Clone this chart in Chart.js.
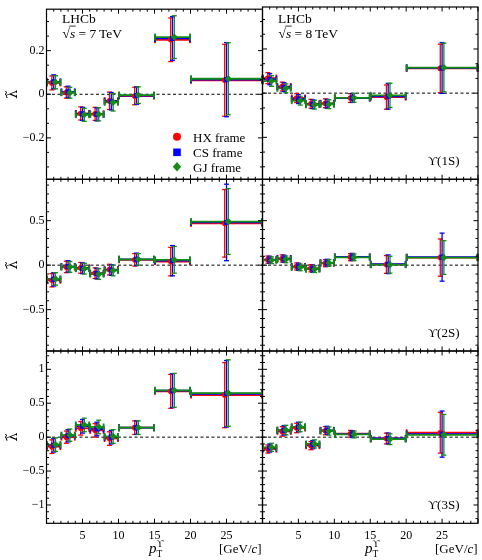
<!DOCTYPE html>
<html>
<head>
<meta charset="utf-8">
<title>LHCb Upsilon lambda-tilde vs pT</title>
<script src="https://cdn.jsdelivr.net/npm/chart.js@4.4.1/dist/chart.umd.min.js"></script>
<style>
  html, body { margin: 0; padding: 0; background: #fff; }
  #wrap { position: relative; width: 482px; height: 560px; }
  #wrap canvas { position: absolute; left: 0; top: 0; }
</style>
</head>
<body>
<div id="wrap">
  <canvas id="c0" width="482" height="560"></canvas>
  <canvas id="c1" width="482" height="560"></canvas>
  <canvas id="c2" width="482" height="560"></canvas>
  <canvas id="c3" width="482" height="560"></canvas>
  <canvas id="c4" width="482" height="560"></canvas>
  <canvas id="c5" width="482" height="560"></canvas>
</div>
<script>
// pT bins (GeV/c)
const binLow    = [0, 2, 4, 6, 8, 10, 15, 20];
const binHigh   = [2, 4, 6, 8, 10, 15, 20, 30];
const binCentre = [1, 3, 5, 7, 9, 12.5, 17.5, 25];
const frameNames = ['HX frame', 'CS frame', 'GJ frame'];

// Y(1S), 7 TeV
const lam1S7HX = [0.052, 0.008, -0.088, -0.090, -0.030, -0.008, 0.250, 0.064];
const lam1S7CS = [0.057, 0.011, -0.090, -0.092, -0.032, -0.006, 0.256, 0.067];
const lam1S7GJ = [0.055, 0.007, -0.094, -0.092, -0.037, -0.004, 0.262, 0.071];
const err1S7HX = [0.032, 0.026, 0.030, 0.030, 0.040, 0.040, 0.100, 0.165];
const err1S7CS = [0.032, 0.026, 0.030, 0.030, 0.040, 0.040, 0.100, 0.170];
const err1S7GJ = [0.030, 0.025, 0.030, 0.030, 0.040, 0.038, 0.098, 0.165];

// Y(1S), 8 TeV
const lam1S8HX = [0.068, 0.030, -0.022, -0.048, -0.046, -0.022, -0.018, 0.112];
const lam1S8CS = [0.063, 0.027, -0.027, -0.050, -0.048, -0.022, -0.014, 0.114];
const lam1S8GJ = [0.055, 0.022, -0.034, -0.052, -0.050, -0.021, -0.010, 0.116];
const err1S8HX = [0.025, 0.020, 0.020, 0.020, 0.020, 0.020, 0.055, 0.110];
const err1S8CS = [0.025, 0.020, 0.020, 0.020, 0.020, 0.020, 0.058, 0.115];
const err1S8GJ = [0.024, 0.020, 0.020, 0.020, 0.020, 0.020, 0.055, 0.110];

// Y(2S), 7 TeV
const lam2S7HX = [-0.170, -0.020, -0.030, -0.090, -0.050, 0.060, 0.040, 0.470];
const lam2S7CS = [-0.160, -0.015, -0.035, -0.095, -0.055, 0.065, 0.050, 0.480];
const lam2S7GJ = [-0.155, -0.020, -0.040, -0.100, -0.060, 0.065, 0.060, 0.490];
const err2S7HX = [0.075, 0.065, 0.060, 0.060, 0.060, 0.070, 0.160, 0.380];
const err2S7CS = [0.075, 0.065, 0.060, 0.060, 0.060, 0.070, 0.170, 0.430];
const err2S7GJ = [0.070, 0.060, 0.060, 0.060, 0.060, 0.065, 0.150, 0.370];

// Y(2S), 8 TeV
const lam2S8HX = [0.062, 0.075, -0.015, -0.035, 0.022, 0.090, 0.008, 0.085];
const lam2S8CS = [0.060, 0.072, -0.018, -0.040, 0.026, 0.092, 0.010, 0.090];
const lam2S8GJ = [0.055, 0.065, -0.025, -0.045, 0.025, 0.088, 0.005, 0.085];
const err2S8HX = [0.040, 0.040, 0.040, 0.040, 0.040, 0.040, 0.100, 0.210];
const err2S8CS = [0.040, 0.040, 0.040, 0.040, 0.040, 0.040, 0.105, 0.270];
const err2S8GJ = [0.038, 0.038, 0.038, 0.038, 0.038, 0.038, 0.095, 0.190];

// Y(3S), 7 TeV
const lam3S7HX = [-0.140, 0.000, 0.130, 0.100, -0.020, 0.140, 0.675, 0.620];
const lam3S7CS = [-0.120, 0.020, 0.160, 0.120, 0.000, 0.140, 0.685, 0.640];
const lam3S7GJ = [-0.110, 0.030, 0.180, 0.150, 0.010, 0.140, 0.690, 0.650];
const err3S7HX = [0.100, 0.090, 0.100, 0.100, 0.100, 0.100, 0.250, 0.480];
const err3S7CS = [0.100, 0.090, 0.100, 0.100, 0.100, 0.100, 0.250, 0.490];
const err3S7GJ = [0.100, 0.090, 0.100, 0.100, 0.100, 0.100, 0.250, 0.490];

// Y(3S), 8 TeV
const lam3S8HX = [-0.175, 0.085, 0.135, -0.125, 0.095, 0.050, -0.020, 0.065];
const lam3S8CS = [-0.160, 0.100, 0.150, -0.110, 0.100, 0.045, -0.020, 0.045];
const lam3S8GJ = [-0.150, 0.105, 0.150, -0.100, 0.090, 0.040, -0.030, 0.035];
const err3S8HX = [0.060, 0.070, 0.070, 0.060, 0.060, 0.050, 0.080, 0.300];
const err3S8CS = [0.060, 0.070, 0.070, 0.060, 0.060, 0.050, 0.080, 0.340];
const err3S8GJ = [0.060, 0.070, 0.070, 0.060, 0.060, 0.050, 0.080, 0.300];

// tick labels
const xTicks = [5, 10, 15, 20, 25];
const xTickLabels = ['5', '10', '15', '20', '25'];
const yTicksRow1 = [-0.2, 0, 0.2];
const yTickLabelsRow1 = ['\u22120.2', '0', '0.2'];
const yTicksRow2 = [-0.5, 0, 0.5];
const yTickLabelsRow2 = ['\u22120.5', '0', '0.5'];
const yTicksRow3 = [-1, -0.5, 0, 0.5, 1];
const yTickLabelsRow3 = ['\u22121', '\u22120.5', '0', '0.5', '1'];

const SERIF = '"Liberation Serif", "DejaVu Serif", serif';
const colours = ['#ff0000', '#0000ff', '#148c14'];
const styles = ['circle', 'rect', 'rectRot'];
const radii = [2.8, 3.6, 3.6];
const shifts = [-0.25, 0, 0.25];

// page geometry of the 3x2 grid
const colLeft = [46.5, 262.5];
const colRight = [262.5, 478.5];
const rows = [
  { top: 7, bottom: 179.3, min: -0.39, max: 0.39, ticks: yTicksRow1, labels: yTickLabelsRow1, step: 0.2 / 3, per: 3 },
  { top: 179.3, bottom: 351, min: -0.965, max: 0.965, ticks: yTicksRow2, labels: yTickLabelsRow2, step: 0.1, per: 5 },
  { top: 351, bottom: 523.3, min: -1.27, max: 1.27, ticks: yTicksRow3, labels: yTickLabelsRow3, step: 0.1, per: 5 }
];

function line(ctx, x0, y0, x1, y1) {
  ctx.beginPath();
  ctx.moveTo(x0, y0);
  ctx.lineTo(x1, y1);
  ctx.stroke();
}

function makeDatasets(vals, errs) {
  return vals.map((v, k) => ({
    label: frameNames[k],
    data: v.map((y, i) => ({ x: binCentre[i] + shifts[k], y: y, err: errs[k][i] })),
    showLine: false,
    pointStyle: styles[k],
    pointRadius: radii[k],
    pointBackgroundColor: colours[k],
    pointBorderColor: colours[k],
    pointBorderWidth: 0,
    borderColor: colours[k],
    order: 3 - k
  }));
}

function sqrtLabel(ctx, x, y, energy) {
  ctx.font = '13.5px ' + SERIF;
  ctx.fillText('\u221A', x, y);
  const w = ctx.measureText('\u221A').width;
  ctx.font = 'italic 13.5px ' + SERIF;
  ctx.fillText('s', x + w, y);
  const ws = ctx.measureText('s').width;
  ctx.lineWidth = 0.8;
  line(ctx, x + w - 0.6, y - 11.4, x + w + ws + 0.6, y - 11.4);
  ctx.font = '13.5px ' + SERIF;
  ctx.fillText(' = ' + energy + '\u2009TeV', x + w + ws, y);
}

function panelPlugin(cfg) {
  const row = rows[cfg.row];
  return {
    id: 'panel' + cfg.row + cfg.col,
    beforeDatasetsDraw(chart) {
      const ctx = chart.ctx, xs = chart.scales.x, ys = chart.scales.y;
      ctx.save();
      // dashed zero line
      ctx.strokeStyle = '#000';
      ctx.lineWidth = 1;
      ctx.setLineDash([3, 2.5]);
      line(ctx, xs.getPixelForValue(0), ys.getPixelForValue(0), xs.getPixelForValue(30), ys.getPixelForValue(0));
      ctx.setLineDash([]);
      // bin widths and error bars
      chart.data.datasets.forEach(ds => {
        ctx.strokeStyle = ds.borderColor;
        ds.data.forEach((p, i) => {
          const px = xs.getPixelForValue(p.x);
          const py = ys.getPixelForValue(p.y);
          const x0 = xs.getPixelForValue(binLow[i]);
          const x1 = xs.getPixelForValue(binHigh[i]);
          const yt = ys.getPixelForValue(p.y + p.err);
          const yb = ys.getPixelForValue(p.y - p.err);
          ctx.lineWidth = 1.8;
          line(ctx, x0, py, x1, py);
          line(ctx, x0 + 0.5, py - 3.5, x0 + 0.5, py + 3.5);
          line(ctx, x1 - 0.5, py - 3.5, x1 - 0.5, py + 3.5);
          ctx.lineWidth = 1.3;
          line(ctx, px, yt, px, yb);
          line(ctx, px - 2.5, yt, px + 2.5, yt);
          line(ctx, px - 2.5, yb, px + 2.5, yb);
        });
      });
      ctx.restore();
    },
    afterDraw(chart) {
      const ctx = chart.ctx, xs = chart.scales.x, ys = chart.scales.y;
      const { left, right, top, bottom } = chart.chartArea;
      ctx.save();
      ctx.strokeStyle = '#000';
      ctx.fillStyle = '#000';
      ctx.lineWidth = 1.2;
      ctx.strokeRect(left, top, right - left, bottom - top);
      ctx.lineWidth = 1;
      for (let v = 0; v <= 30; v++) {
        const len = v % 5 === 0 ? 4.5 : 2.5;
        const px = xs.getPixelForValue(v);
        line(ctx, px, bottom, px, bottom - len);
        line(ctx, px, top, px, top + len);
      }
      const k0 = Math.ceil(row.min / row.step - 1e-6), k1 = Math.floor(row.max / row.step + 1e-6);
      for (let k = k0; k <= k1; k++) {
        const len = k % row.per === 0 ? 4.5 : 2.5;
        const py = ys.getPixelForValue(k * row.step);
        line(ctx, left, py, left + len, py);
        line(ctx, right, py, right - len, py);
      }
      ctx.textAlign = 'left';
      ctx.textBaseline = 'alphabetic';
      if (cfg.row === 0) {
        ctx.font = '13.5px ' + SERIF;
        ctx.fillText('LHCb', left + 15.5, 23);
        sqrtLabel(ctx, left + 16, 37.5, cfg.col === 0 ? '7' : '8');
      }
      if (cfg.col === 1) {
        ctx.font = '13px ' + SERIF;
        ctx.textAlign = 'right';
        ctx.fillText('\u03D2(' + cfg.state + ')', 459.5, row.bottom - 14.5);
        ctx.textAlign = 'left';
      }
      if (cfg.row === 0 && cfg.col === 0) {
        const ly = [136.7, 152.3, 166.8];
        frameNames.forEach((name, k) => {
          ctx.fillStyle = colours[k];
          const cx = 177, cy = ly[k];
          ctx.beginPath();
          if (k === 0) ctx.arc(cx, cy, 4, 0, 2 * Math.PI);
          else if (k === 1) ctx.rect(cx - 3.8, cy - 3.8, 7.6, 7.6);
          else { ctx.moveTo(cx, cy - 4.8); ctx.lineTo(cx + 4.2, cy); ctx.lineTo(cx, cy + 4.8); ctx.lineTo(cx - 4.2, cy); ctx.closePath(); }
          ctx.fill();
          ctx.fillStyle = '#000';
          ctx.font = '13px ' + SERIF;
          ctx.fillText(name, 193, cy + 4.8);
        });
      }
      if (cfg.row === 2) {
        const off = cfg.col === 0 ? 0 : 216;
        ctx.font = 'italic 15px ' + SERIF;
        ctx.fillText('p', 149 + off, 553);
        ctx.font = '9.5px ' + SERIF;
        ctx.fillText('T', 156.5 + off, 557);
        ctx.fillText('\u03D2', 156.5 + off, 546.5);
        ctx.font = '13px ' + SERIF;
        ctx.fillText('[GeV/', 219 + off, 553);
        let w = ctx.measureText('[GeV/').width;
        ctx.font = 'italic 13px ' + SERIF;
        ctx.fillText('c', 219 + off + w, 553);
        w += ctx.measureText('c').width;
        ctx.font = '13px ' + SERIF;
        ctx.fillText(']', 219 + off + w, 553);
      }
      ctx.restore();
    }
  };
}

function makePanel(id, cfg, vals, errs) {
  const row = rows[cfg.row];
  const isLeft = cfg.col === 0;
  const isBottom = cfg.row === 2;
  const xAxisH = 24;
  new Chart(document.getElementById(id), {
    type: 'scatter',
    data: { datasets: makeDatasets(vals, errs) },
    options: {
      responsive: false,
      animation: false,
      devicePixelRatio: 1,
      events: [],
      layout: {
        padding: {
          left: isLeft ? 0 : colLeft[1],
          right: 482 - colRight[cfg.col],
          top: row.top,
          bottom: 560 - row.bottom - (isBottom ? xAxisH : 0)
        }
      },
      plugins: { legend: { display: false }, tooltip: { enabled: false } },
      scales: {
        x: {
          type: 'linear',
          min: 0,
          max: 30,
          display: isBottom,
          grid: { display: false, drawTicks: false },
          border: { display: false },
          afterBuildTicks: s => { s.ticks = xTicks.map(v => ({ value: v })); },
          afterFit: s => { s.height = isBottom ? xAxisH : 0; },
          ticks: {
            autoSkip: false,
            maxRotation: 0,
            padding: 5,
            color: '#000',
            font: { family: SERIF, size: 12 },
            callback: v => xTickLabels[xTicks.indexOf(v)]
          }
        },
        y: {
          type: 'linear',
          position: 'left',
          min: row.min,
          max: row.max,
          display: isLeft,
          grid: { display: false, drawTicks: false },
          border: { display: false },
          afterBuildTicks: s => { s.ticks = row.ticks.map(v => ({ value: v })); },
          afterFit: s => { s.width = isLeft ? colLeft[0] : 0; },
          ticks: {
            autoSkip: false,
            padding: 2,
            color: '#000',
            font: { family: SERIF, size: 12 },
            callback: v => row.labels[row.ticks.indexOf(v)]
          },
          title: {
            display: true,
            text: '\u03BB\u0303',
            color: '#000',
            font: { family: '"DejaVu Serif", serif', size: 14 },
            padding: { top: 5, bottom: 0 }
          }
        }
      }
    },
    plugins: [panelPlugin(cfg)]
  });
}

makePanel('c0', { row: 0, col: 0, state: '1S' }, [lam1S7HX, lam1S7CS, lam1S7GJ], [err1S7HX, err1S7CS, err1S7GJ]);
makePanel('c1', { row: 0, col: 1, state: '1S' }, [lam1S8HX, lam1S8CS, lam1S8GJ], [err1S8HX, err1S8CS, err1S8GJ]);
makePanel('c2', { row: 1, col: 0, state: '2S' }, [lam2S7HX, lam2S7CS, lam2S7GJ], [err2S7HX, err2S7CS, err2S7GJ]);
makePanel('c3', { row: 1, col: 1, state: '2S' }, [lam2S8HX, lam2S8CS, lam2S8GJ], [err2S8HX, err2S8CS, err2S8GJ]);
makePanel('c4', { row: 2, col: 0, state: '3S' }, [lam3S7HX, lam3S7CS, lam3S7GJ], [err3S7HX, err3S7CS, err3S7GJ]);
makePanel('c5', { row: 2, col: 1, state: '3S' }, [lam3S8HX, lam3S8CS, lam3S8GJ], [err3S8HX, err3S8CS, err3S8GJ]);
</script>
</body>
</html>
